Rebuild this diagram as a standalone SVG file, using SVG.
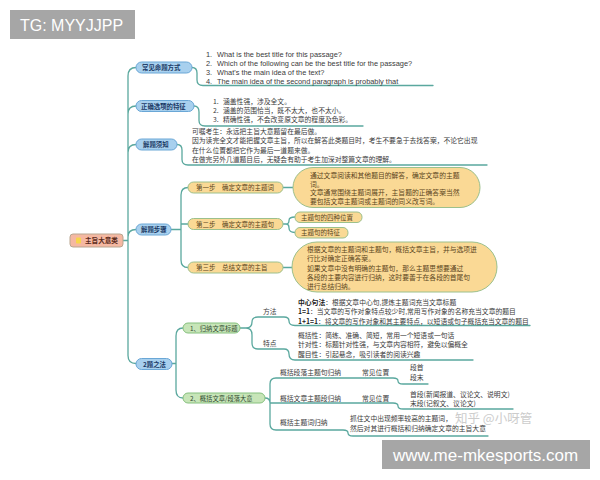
<svg xmlns="http://www.w3.org/2000/svg" width="600" height="480" viewBox="0 0 600 480">
<style>
.c{fill:none;stroke:#5aa89e;stroke-width:1.3;stroke-linecap:round}
.n1 rect{fill:#a8d0ee;stroke:#6aa7d6;stroke-width:1}
.n1 text{font-family:"Noto Sans CJK SC",sans-serif;font-size:6.4px;font-weight:bold;fill:#1b3a66}
.ny rect{fill:#fad995;stroke:#9cc08c;stroke-width:1}
.ny text{font-family:"Noto Sans CJK SC",sans-serif;font-size:6.5px;fill:#5b4520}
.ng rect{fill:#c7e5b8;stroke:#86c07e;stroke-width:1}
.ng text{font-family:"Noto Sans CJK SC",sans-serif;font-size:6.3px;fill:#2f4a2f}
.t{font-family:"Noto Sans CJK SC",sans-serif;font-size:6.8px;fill:#3a3a3a}
.tb{font-family:"Noto Sans CJK SC",sans-serif;font-size:6.8px;fill:#5b4520}
.e{font-family:"Liberation Sans",sans-serif;font-size:7.4px;fill:#3a3a3a}
.b{font-weight:bold;fill:#222}
</style>

<g id="tg"><rect x="10" y="10" width="125" height="29" fill="#a6a6a6"/><text x="20" y="31" font-family="Liberation Sans,sans-serif" font-size="16" fill="#fff">TG: MYYJJPP</text></g>

<g id="connectors">
<path class="c" d="M123,240.5 H128 M128,240.5 V76 Q128,67.5 136,67.5 M128,240.5 V114 Q128,106 136,106 M128,240.5 V152.5 Q128,144.5 136,144.5 M128,240.5 V237 Q128,229.5 136,229.5 M128,240.5 V355.5 Q128,363.5 136,363.5"/>
<path class="c" d="M192,67.5 Q197,67.5 197,73 V80 Q197,85.5 203,85.5 H433"/>
<path class="c" d="M194,106 Q199,106 199,112 V120.5 Q199,126 205,126 H363"/>
<path class="c" d="M177,144.5 Q182,144.5 182,150 V159.5 Q182,165 188,165 H487"/>
<path class="c" d="M171,229.5 H181 M188,187.5 Q181,187.5 181,195 V260 Q181,267.5 188,267.5 M181,224 H188"/>
<path class="c" d="M283,187.5 H293 M283,267.5 H292 M283,224 H286 Q289,224 289,220.5 Q289,217 295,217 M286,224 Q289,224 289,228 Q289,232.5 295,232.5"/>
<path class="c" d="M172,363.5 H176 M183,328 Q176,328 176,336 V390 Q176,398 183,398"/>
<path class="c" d="M240,328 H246 Q252,328 252,322 Q252,317 258,317 H284 Q289,317 289,321 Q289,325.5 295,325.5 H530 M246,328 Q252,328 252,335 V343 Q252,349 258,349 H284 Q289,349 289,354 Q289,360 295,360 H473"/>
<path class="c" d="M265,398 Q270,398 270,403 H393 Q398,403 398,406 Q398,409 403,409 H513 M270,403 V384 Q270,378 276,378 H393 Q398,378 398,381 Q398,384 403,384 H428 M270,403 V424 Q270,430 276,430 H343 Q348,430 348,433 Q348,436 353,436 H488"/>
</g>

<g id="root"><rect x="70" y="234" width="53" height="13" rx="3" fill="#f5b8a2" stroke="#b9a58f"/><rect x="76" y="237.5" width="5" height="6" rx="1" fill="#f7d54a"/><text x="85" y="243" font-family="Noto Sans CJK SC,sans-serif" font-size="6.6" font-weight="bold" fill="#5a2a1a">主旨大意类</text></g>

<g id="n-mingti" class="n1"><rect x="136" y="62" width="56" height="11" rx="5.5"/><text x="142" y="70">常见命题方式</text></g>
<g id="mingti-text">
<text class="e" x="206" y="56.5">1.</text><text class="e" x="217" y="56.5">What is the best title for this passage?</text>
<text class="e" x="206" y="65.5">2.</text><text class="e" x="217" y="65.5">Which of the following can be the best title for the passage?</text>
<text class="e" x="206" y="74.5">3.</text><text class="e" x="217" y="74.5">What's the main idea of the text?</text>
<text class="e" x="206" y="83.5">4.</text><text class="e" x="217" y="83.5">The main idea of the second paragraph is probably that</text>
</g>

<g id="n-tezheng" class="n1"><rect x="136" y="100.5" width="58" height="11" rx="5.5"/><text x="141" y="108.5">正确选项的特征</text></g>
<g id="tezheng-text">
<text class="t" x="213" y="103.5">1.</text><text class="t" x="223" y="103.5">涵盖性强，涉及全文。</text>
<text class="t" x="213" y="112.5">2.</text><text class="t" x="223" y="112.5">涵盖的范围恰当，既不太大，也不太小。</text>
<text class="t" x="213" y="121.5">3.</text><text class="t" x="223" y="121.5">精确性强，不会改变原文章的程度及色彩。</text>
</g>

<g id="n-xuzhi" class="n1"><rect x="136" y="139" width="41" height="11" rx="5.5"/><text x="143" y="147">解题须知</text></g>
<g id="xuzhi-text">
<text class="t" x="192" y="134">可嘱考生：永远把主旨大意题留在最后做。</text>
<text class="t" x="192" y="143.3">因为读完全文才能把握文章主旨，所以在解答此类题目时，考生不要急于去找答案，不论它出现</text>
<text class="t" x="192" y="152.6">在什么位置都把它作为最后一道题来做。</text>
<text class="t" x="192" y="161.9">在做完另外几道题目后，无疑会有助于考生加深对整篇文章的理解。</text>
</g>

<g id="n-buzhou" class="n1"><rect x="136" y="224" width="35" height="11" rx="5.5"/><text x="141" y="232">解题步骤</text></g>

<g id="n-step1" class="ny"><rect x="188" y="182" width="95" height="11" rx="5.5"/><text x="196" y="190">第一步　确定文章的主题词</text></g>
<g id="b-step1"><rect x="293" y="167.5" width="187" height="40" rx="20" fill="#fad995" stroke="#9cc08c"/>
<text class="tb" x="310" y="178">通过文章阅读和其他题目的解答，确定文章的主题</text>
<text class="tb" x="310" y="186.5">词。</text>
<text class="tb" x="310" y="195">文章通常围绕主题词展开，主旨题的正确答案当然</text>
<text class="tb" x="310" y="203.5">要包括文章主题词或主题词的同义改写词。</text>
</g>

<g id="n-step2" class="ny"><rect x="188" y="218.5" width="95" height="11" rx="5.5"/><text x="196" y="226.5">第二步　确定文章的主题句</text></g>
<g id="n-weizhi" class="ny"><rect x="295" y="212" width="67" height="10.5" rx="5"/><text x="301" y="219.7">主题句的四种位置</text></g>
<g id="n-tz" class="ny"><rect x="295" y="227.5" width="53" height="10.5" rx="5"/><text x="301" y="235.2">主题句的特征</text></g>

<g id="n-step3" class="ny"><rect x="188" y="262" width="95" height="11" rx="5.5"/><text x="196" y="270">第三步　总结文章的主旨</text></g>
<g id="b-step3"><rect x="292" y="242" width="205" height="50" rx="25" fill="#fad995" stroke="#9cc08c"/>
<text class="tb" x="307" y="251.5">根据文章的主题词和主题句，概括文章主旨，并与选项进</text>
<text class="tb" x="307" y="261">行比对确定正确答案。</text>
<text class="tb" x="307" y="270.5">如果文章中没有明确的主题句，那么主题思想要通过</text>
<text class="tb" x="307" y="279.5">各段的主要内容进行归纳，这时要善于在各段的首尾句</text>
<text class="tb" x="307" y="288.5">进行总结归纳。</text>
</g>

<g id="n-fa" class="n1"><rect x="136" y="358.5" width="36" height="11" rx="5.5"/><text x="143" y="366.5">2题之法</text></g>

<g id="n-guina" class="ng"><rect x="183" y="323" width="57" height="10" rx="5"/><text x="190" y="330.5">1、归纳文章标题</text></g>
<g id="l-fangfa"><text class="t" x="263" y="313.5">方法</text></g>
<g id="fangfa-text">
<text class="t" x="298" y="304.5"><tspan class="b">中心句法</tspan>：根据文章中心句,提炼主题词充当文章标题</text>
<text class="t" x="298" y="314"><tspan class="b">1=1</tspan>：当文章的写作对象特点较少时,常用写作对象的名称充当文章的题目</text>
<text class="t" x="298" y="323.5"><tspan class="b">1+1=1</tspan>：将文章的写作对象和其主要特点，以短语或句子概括充当文章的题目</text>
</g>
<g id="l-tedian"><text class="t" x="263" y="345.5">特点</text></g>
<g id="tedian-text">
<text class="t" x="298" y="337.5">概括性：简练、准确、简短，常用一个短语或一句话</text>
<text class="t" x="298" y="347">针对性：标题针对性强，与文章内容相符，避免以偏概全</text>
<text class="t" x="298" y="356.5">醒目性：引起悬念，吸引读者的阅读兴趣</text>
</g>

<g id="n-gaikuo" class="ng"><rect x="183" y="393" width="82" height="10" rx="5"/><text x="190" y="400.5">2、概括文章/段落大意</text></g>
<g id="duanluo"><text class="t" x="280" y="374.5">概括段落主题句归纳</text><text class="t" x="362" y="374.5">常见位置</text><text class="t" x="410" y="370">段首</text><text class="t" x="410" y="379.5">段末</text></g>
<g id="wenzhang"><text class="t" x="280" y="400.5">概括文章主题段归纳</text><text class="t" x="362" y="400.5">常见位置</text><text class="t" x="410" y="396.5">首段(新闻报道、议论文、说明文)</text><text class="t" x="410" y="406">末段(记叙文、议论文)</text></g>
<g id="zhutici"><text class="t" x="280" y="425">概括主题词归纳</text><text class="t" x="350" y="421">抓住文中出现频率较高的主题词，</text><text class="t" x="350" y="431">然后对其进行概括和归纳确定文章的主旨大意</text></g>

<text x="455" y="422.5" font-family="Noto Sans CJK SC,sans-serif" font-size="12.5" fill="#c4c4c4" opacity="0.85">知乎 @小呀管</text>

<g id="site"><rect x="382" y="440" width="208" height="29" fill="#a6a6a6"/><text x="393" y="461" font-family="Liberation Sans,sans-serif" font-size="17" fill="#fff">www.me-mkesports.com</text></g>
</svg>
